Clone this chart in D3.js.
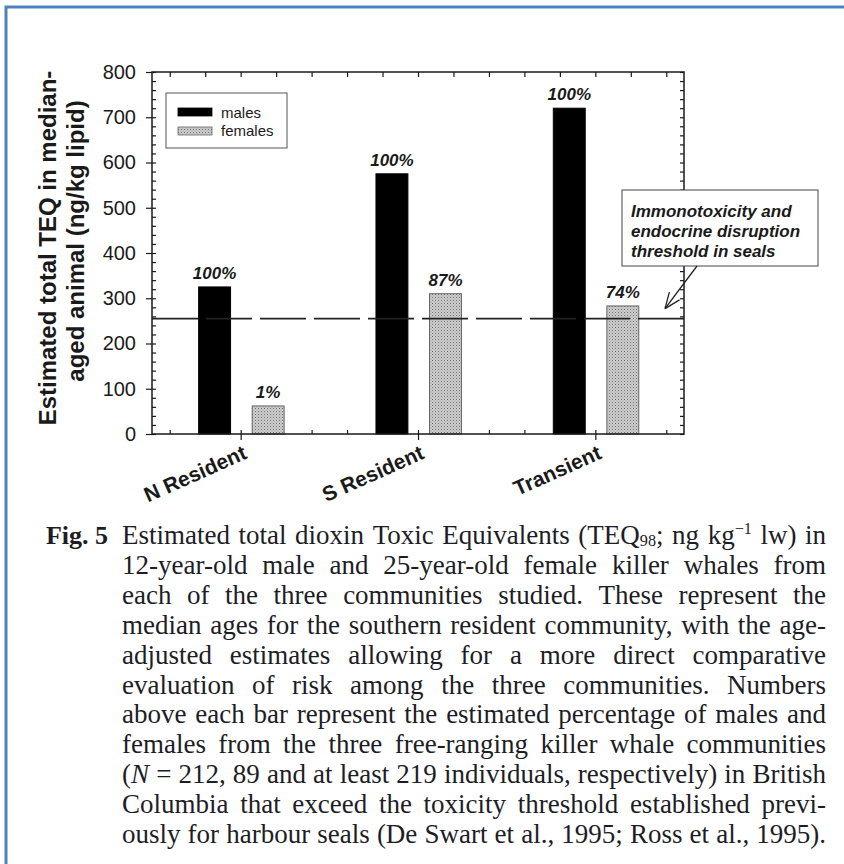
<!DOCTYPE html>
<html>
<head>
<meta charset="utf-8">
<script src="https://cdn.jsdelivr.net/npm/d3@7"></script>
<style>
  html, body { margin: 0; padding: 0; background: #fff; }
  svg { display: block; }
  text { font-family: Arial, "Liberation Sans", sans-serif; fill: #1a1a1a; }
  .caption text { font-family: "Times New Roman", "Liberation Serif", serif; fill: #1d1d26; }
</style>
</head>
<body>
<svg id="chart" width="844" height="864"></svg>
<script>
// ---- data ----
const communities = ["N Resident", "S Resident", "Transient"];
const maleTEQ = [325, 575, 720];
const femaleTEQ = [62, 310, 283];
const malePct = ["100%", "100%", "100%"];
const femalePct = ["1%", "87%", "74%"];
const thresholdTEQ = 255;
const yTickValues = [0, 100, 200, 300, 400, 500, 600, 700, 800];
const legendLabels = ["males", "females"];
const yTitleLines = ["Estimated total TEQ in median-", "aged animal (ng/kg lipid)"];
const thresholdNote = ["Immonotoxicity and", "endocrine disruption", "threshold in seals"];
const figLabel = "Fig. 5";
const captionLines = [
  "Estimated total dioxin Toxic Equivalents (TEQ{sub:98}; ng kg{sup:\u22121} lw) in",
  "12-year-old male and 25-year-old female killer whales from",
  "each of the three communities studied. These represent the",
  "median ages for the southern resident community, with the age-",
  "adjusted estimates allowing for a more direct comparative",
  "evaluation of risk among the three communities. Numbers",
  "above each bar represent the estimated percentage of males and",
  "females from the three free-ranging killer whale communities",
  "({i:N} = 212, 89 and at least 219 individuals, respectively) in British",
  "Columbia that exceed the toxicity threshold established previ-",
  "ously for harbour seals (De Swart et al., 1995; Ross et al., 1995)."
];

// ---- layout ----
const svg = d3.select("#chart");
const plot = { left: 152, right: 684, top: 72, bottom: 434 };
const x = d3.scaleLinear().domain([0.5, 3.5]).range([plot.left, plot.right]);
const y = d3.scaleLinear().domain([0, 800]).range([plot.bottom, plot.top]);
const barWidth = 0.18;                 // in category units
const seriesOffset = [-0.147, 0.155];  // males, females

// page frame (blue rule at top and left)
svg.append("path")
  .attr("d", "M6,870 V7 H850")
  .attr("fill", "none")
  .attr("stroke", "#4f81bd")
  .attr("stroke-width", 3);

// stipple fill for the female bars
const defs = svg.append("defs");
const pat = defs.append("pattern")
  .attr("id", "stipple")
  .attr("width", 3).attr("height", 3)
  .attr("patternUnits", "userSpaceOnUse");
pat.append("rect").attr("width", 3).attr("height", 3).attr("fill", "#cdcdcd");
pat.append("rect").attr("width", 1).attr("height", 1).attr("fill", "#6e6e6e");
pat.append("rect").attr("x", 1.5).attr("y", 1.5).attr("width", 1).attr("height", 1).attr("fill", "#9a9a9a");

// ---- axes ----
const minorY = d3.range(0, 41).map(i => i * 20);
const minorX = d3.range(3, 18).map(i => i / 5);

function clean(g) {
  g.select(".domain").remove();
  g.selectAll(".tick line").attr("stroke", "#1a1a1a").attr("stroke-width", 1.2);
}

// left axis: major ticks out, labelled
svg.append("g")
  .attr("transform", `translate(${plot.left},0)`)
  .call(d3.axisLeft(y).tickValues(yTickValues).tickSize(6).tickPadding(10).tickFormat(d3.format("d")))
  .call(clean)
  .call(g => g.selectAll("text").style("font-size", "20px").attr("fill", "#222"));
// left axis minor ticks, inward
svg.append("g")
  .attr("transform", `translate(${plot.left},0)`)
  .call(d3.axisRight(y).tickValues(minorY).tickSize(4).tickFormat(""))
  .call(clean);
// right axis ticks, inward
svg.append("g")
  .attr("transform", `translate(${plot.right},0)`)
  .call(d3.axisLeft(y).tickValues(minorY).tickSize(4).tickFormat(""))
  .call(clean);
// top axis ticks, inward
svg.append("g")
  .attr("transform", `translate(0,${plot.top})`)
  .call(d3.axisBottom(x).tickValues(minorX).tickSize(5).tickFormat(""))
  .call(clean);
// bottom axis minor ticks, inward
svg.append("g")
  .attr("transform", `translate(0,${plot.bottom})`)
  .call(d3.axisTop(x).tickValues(minorX).tickSize(4).tickFormat(""))
  .call(clean);
// bottom axis major ticks at each community, with slanted labels
const xAxis = svg.append("g")
  .attr("transform", `translate(0,${plot.bottom})`)
  .call(d3.axisBottom(x).tickValues([1, 2, 3]).tickSize(6).tickFormat(""))
  .call(clean);
xAxis.selectAll(".tick").append("text")
  .attr("text-anchor", "end")
  .attr("transform", "translate(7,24) rotate(-24)")
  .style("font-size", "21px")
  .style("font-weight", "bold")
  .attr("fill", "#1a1a1a")
  .text((d, i) => communities[i]);

// y-axis title
yTitleLines.forEach((line, i) => {
  svg.append("text")
    .attr("transform", `translate(${56 + i * 28},${248 - i * 7}) rotate(-90)`)
    .attr("text-anchor", "middle")
    .style("font-size", "24px")
    .style("font-weight", "bold")
    .text(line);
});

// ---- bars ----
const series = [
  { values: maleTEQ, pct: malePct, fill: "#000", stroke: "#000" },
  { values: femaleTEQ, pct: femalePct, fill: "url(#stipple)", stroke: "#666" }
];
const barsG = svg.append("g");
series.forEach((s, si) => {
  const cx = i => x(i + 1 + seriesOffset[si]);
  const halfW = (x(barWidth) - x(0)) / 2;
  barsG.selectAll(null)
    .data(s.values)
    .join("rect")
    .attr("x", (d, i) => cx(i) - halfW)
    .attr("width", halfW * 2)
    .attr("y", d => y(d))
    .attr("height", d => y(0) - y(d))
    .attr("fill", s.fill)
    .attr("stroke", s.stroke)
    .attr("stroke-width", 1);
  barsG.selectAll(null)
    .data(s.values)
    .join("text")
    .attr("x", (d, i) => cx(i))
    .attr("y", d => y(d) - 8)
    .attr("text-anchor", "middle")
    .style("font-size", "17px")
    .style("font-weight", "bold")
    .style("font-style", "italic")
    .text((d, i) => s.pct[i]);
});

// threshold line
svg.append("line")
  .attr("x1", plot.left).attr("x2", plot.right)
  .attr("y1", y(thresholdTEQ)).attr("y2", y(thresholdTEQ))
  .attr("stroke", "#222")
  .attr("stroke-width", 1.6)
  .attr("stroke-dasharray", "46,8");

// plot frame
svg.append("rect")
  .attr("x", plot.left).attr("y", plot.top)
  .attr("width", plot.right - plot.left)
  .attr("height", plot.bottom - plot.top)
  .attr("fill", "none")
  .attr("stroke", "#1a1a1a")
  .attr("stroke-width", 1.5);

// ---- legend ----
const legend = svg.append("g").attr("transform", "translate(166,93)");
legend.append("rect")
  .attr("width", 121).attr("height", 55)
  .attr("fill", "#fff").attr("stroke", "#555").attr("stroke-width", 1);
legendLabels.forEach((lab, i) => {
  legend.append("rect")
    .attr("x", 12).attr("y", 15 + i * 19)
    .attr("width", 34).attr("height", 8)
    .attr("fill", series[i].fill)
    .attr("stroke", series[i].stroke).attr("stroke-width", 0.8);
  legend.append("text")
    .attr("x", 55).attr("y", 25 + i * 18)
    .style("font-size", "15px")
    .text(lab);
});

// ---- threshold note with arrow ----
const note = svg.append("g");
note.append("rect")
  .attr("x", 622).attr("y", 190)
  .attr("width", 196).attr("height", 76)
  .attr("fill", "#fff").attr("stroke", "#444").attr("stroke-width", 1);
thresholdNote.forEach((line, i) => {
  note.append("text")
    .attr("x", 631).attr("y", 217 + i * 20)
    .style("font-size", "17px")
    .style("font-weight", "bold")
    .style("font-style", "italic")
    .text(line);
});
const tail = [697, 266];
const tip = [665, y(thresholdTEQ) - 10];
note.append("line")
  .attr("x1", tail[0]).attr("y1", tail[1])
  .attr("x2", tip[0]).attr("y2", tip[1])
  .attr("stroke", "#222").attr("stroke-width", 1.3);
{
  const dx = tail[0] - tip[0], dy = tail[1] - tip[1];
  const len = Math.hypot(dx, dy);
  const ux = dx / len, uy = dy / len;
  const head = 17, ang = 22 * Math.PI / 180;
  [ang, -ang].forEach(a => {
    const rx = ux * Math.cos(a) - uy * Math.sin(a);
    const ry = ux * Math.sin(a) + uy * Math.cos(a);
    note.append("line")
      .attr("x1", tip[0]).attr("y1", tip[1])
      .attr("x2", tip[0] + rx * head).attr("y2", tip[1] + ry * head)
      .attr("stroke", "#222").attr("stroke-width", 1.3);
  });
}

// ---- caption (justified, word by word) ----
const cap = svg.append("g").attr("class", "caption");
const capLeft = 122, capRight = 826, capFont = 27, capTop = 544, capLead = 29.9;

cap.append("text")
  .attr("x", 108).attr("y", capTop)
  .attr("text-anchor", "end")
  .style("font-size", (capFont - 1) + "px")
  .style("font-weight", "bold")
  .text(figLabel);

function addWord(g, word) {
  const t = g.append("text").style("font-size", capFont + "px");
  let shift = 0;
  word.split(/(\{(?:sub|sup|i):[^}]*\})/).filter(Boolean).forEach(part => {
    const m = part.match(/^\{(sub|sup|i):(.*)\}$/);
    if (!m) {
      const ts = t.append("tspan").text(part);
      if (shift) { ts.attr("dy", -shift); shift = 0; }
    } else if (m[1] === "i") {
      const ts = t.append("tspan").style("font-style", "italic").text(m[2]);
      if (shift) { ts.attr("dy", -shift); shift = 0; }
    } else {
      const d = m[1] === "sub" ? 2 : -10;
      t.append("tspan").attr("dy", d - shift).style("font-size", (capFont * 0.6) + "px").text(m[2]);
      shift = d;
    }
  });
  return t;
}

captionLines.forEach((line, li) => {
  const g = cap.append("g").attr("transform", `translate(0,${capTop + li * capLead})`);
  const words = line.split(" ");
  const nodes = words.map(w => addWord(g, w));
  const widths = nodes.map(n => n.node().getComputedTextLength());
  const total = d3.sum(widths);
  const gaps = words.length - 1;
  const avail = capRight - capLeft;
  const minGap = 4;
  let gap = gaps ? (avail - total) / gaps : 0;
  let scale = 1;
  if (gap < minGap) {
    gap = minGap;
    scale = (avail - gaps * minGap) / total;
  }
  let cx = capLeft;
  nodes.forEach((n, i) => {
    n.attr("transform", `translate(${cx},0) scale(${scale},1)`);
    cx += widths[i] * scale + gap;
  });
});
</script>
</body>
</html>
